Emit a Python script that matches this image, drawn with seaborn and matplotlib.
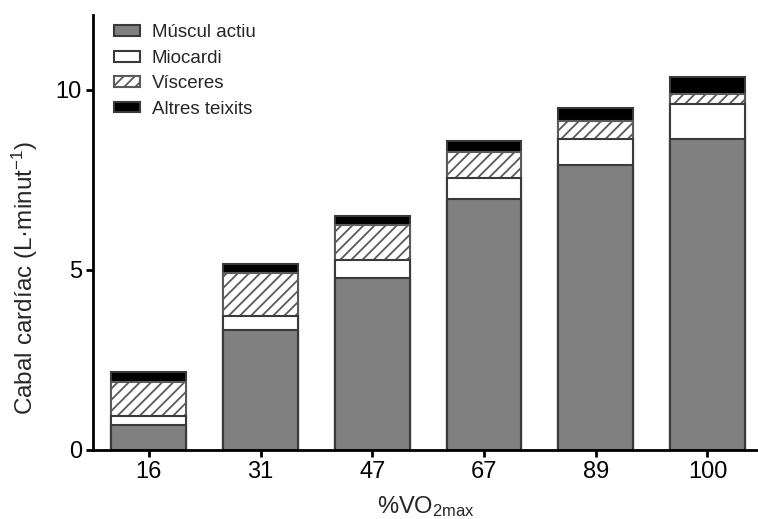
import matplotlib
matplotlib.use("Agg")
import matplotlib.pyplot as plt
import matplotlib.patches as mpatches
import numpy as np
import pandas as pd
import seaborn as sns

# %VO2max levels and cardiac output (L/min) shared by each tissue
vo2_levels = ["16", "31", "47", "67", "89", "100"]
muscul_actiu = [0.68, 3.33, 4.79, 6.96, 7.92, 8.65]
miocardi = [0.25, 0.39, 0.49, 0.60, 0.72, 0.97]
visceres = [0.97, 1.19, 0.97, 0.73, 0.50, 0.26]
altres_teixits = [0.26, 0.26, 0.26, 0.29, 0.35, 0.47]

series_names = ["Múscul actiu", "Miocardi", "Vísceres", "Altres teixits"]

sns.set_theme(style="white")
plt.rcParams["font.family"] = ["Liberation Sans", "DejaVu Sans"]
plt.rcParams["mathtext.fontset"] = "custom"
plt.rcParams["mathtext.rm"] = "Liberation Sans"
plt.rcParams["mathtext.it"] = "Liberation Sans"
plt.rcParams["hatch.linewidth"] = 1.3

edge = "#3a3a3a"
hatch_edge = "#5a5a5a"
styles = {
    "Múscul actiu": dict(color="#808080", hatch=None),
    "Miocardi": dict(color="white", hatch=None),
    "Vísceres": dict(color="white", hatch="///"),
    "Altres teixits": dict(color="black", hatch=None),
}

df = pd.DataFrame({
    "vo2": vo2_levels,
    "Múscul actiu": muscul_actiu,
    "Miocardi": miocardi,
    "Vísceres": visceres,
    "Altres teixits": altres_teixits,
})
cum = df[series_names].cumsum(axis=1)

fig = plt.figure(figsize=(7.58, 5.19), dpi=100)
ax = fig.add_axes([0.1227, 0.133, 0.877, 0.838])

# Stacked bars: draw cumulative totals from the top layer down
for name in reversed(series_names):
    st = styles[name]
    sns.barplot(x=df["vo2"], y=cum[name], ax=ax, color=st["color"],
                width=0.67, edgecolor=edge, linewidth=1.5,
                saturation=1, errorbar=None)
    if st["hatch"]:
        for p in ax.patches[-len(vo2_levels):]:
            p.set_facecolor("white")
            p.set_hatch(st["hatch"])
            p.set_edgecolor(hatch_edge)

ax.set_xlim(-0.5, 5.45)
ax.set_ylim(0, 12.08)
ax.set_yticks([0, 5, 10])
ax.set_yticklabels(["0", "5", "10"])

for s in ["top", "right"]:
    ax.spines[s].set_visible(False)
for s in ["left", "bottom"]:
    ax.spines[s].set_color("black")
    ax.spines[s].set_linewidth(2)
ax.tick_params(axis="both", which="major", direction="out", length=5, width=2,
               color="black", labelsize=17, labelcolor="black", pad=3)
ax.tick_params(axis="y", left=True)
ax.tick_params(axis="x", bottom=True)

ax.set_xlabel("%VO$_{\\mathrm{2max}}$", fontsize=17, labelpad=8)
ax.set_ylabel("Cabal cardíac (L·minut$^{\\mathrm{-1}}$)", fontsize=17.5)
ax.yaxis.set_label_coords(-0.08, 0.395)

handles = []
for name in series_names:
    st = styles[name]
    ec = hatch_edge if st["hatch"] else edge
    handles.append(mpatches.Patch(facecolor=st["color"], edgecolor=ec,
                                  hatch=st["hatch"], linewidth=1.5, label=name))
fig.legend(handles=handles, loc="upper left", bbox_to_anchor=(0.150, 0.953),
           frameon=False, fontsize=13.5, handlelength=1.42, handleheight=0.5,
           labelspacing=0.45, handletextpad=0.6, borderaxespad=0,
           borderpad=0)

fig.savefig("out.png", dpi=100)
